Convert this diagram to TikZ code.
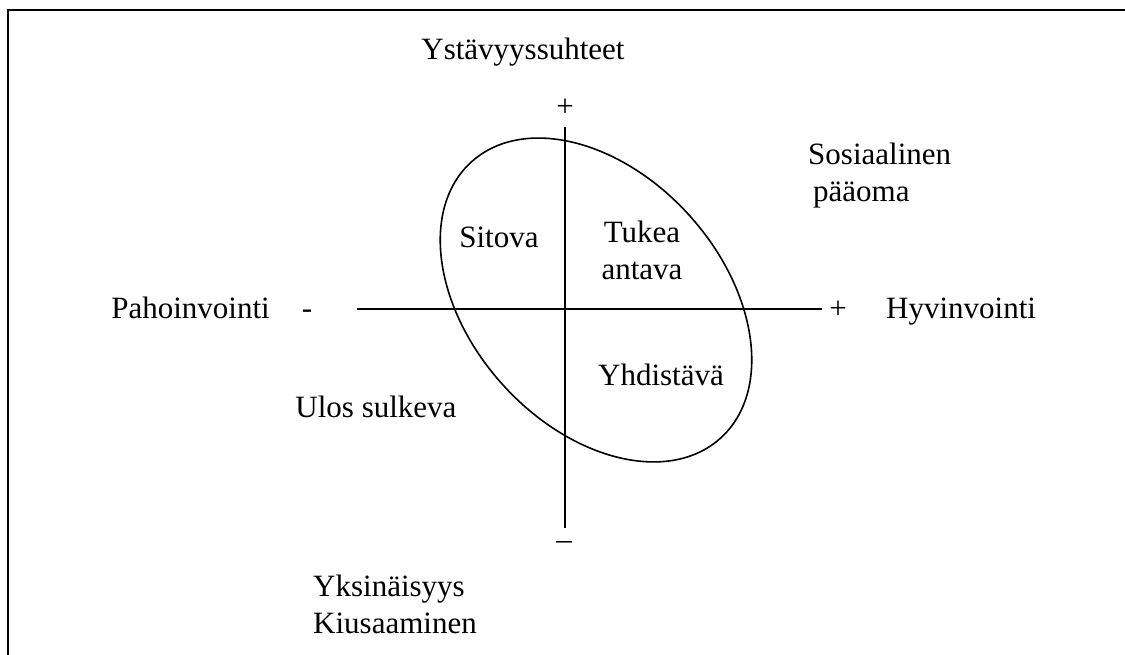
\documentclass[tikz,border=0pt]{standalone}
\usepackage{fontspec}
\setmainfont{Liberation Serif}
\begin{document}
\begin{tikzpicture}[x=1pt,y=-1pt,
  lbl/.style={inner sep=0pt, font=\fontsize{31}{37}\selectfont},
  axis/.style={line width=1.6pt}]
\useasboundingbox (0,0) rectangle (1125,655);
\draw[line width=2.4pt] (8,655) -- (8,10) -- (1125,10);

\node[lbl] (ystav) at (523,52) {Ystävyyssuhteet};
\node[lbl] (yplus) at (565,108) {+};
\node[lbl] (yminus) at (564,546) {--};
\node[lbl, anchor=base east] (paho) at (270,319) {Pahoinvointi};
\node[lbl, anchor=base] (xminus) at (307,319) {-};
\node[lbl, anchor=base] (xplus) at (838,319) {+};
\node[lbl, anchor=base west] (hyvin) at (886,319) {Hyvinvointi};
\node[lbl, anchor=west, align=left] (sos) at (808,176) {Sosiaalinen\\\hspace{5pt}pääoma};
\node[lbl] (sitova) at (499,237) {Sitova};
\node[lbl, align=center] (tukea) at (642,250) {Tukea\\antava};
\node[lbl] (yhdis) at (661,375) {Yhdistävä};
\node[lbl] (ulos) at (376,407) {Ulos sulkeva};
\node[lbl, anchor=west, align=left] (yksin) at (313,604) {Yksinäisyys\\Kiusaaminen};

\coordinate (xl) at (357,309);
\coordinate (xr) at (822,309);
\coordinate (yt) at (565,127);
\coordinate (yb) at (565,528);
\coordinate (ec) at (596,300);

\path[draw,axis] (xl) -- (xr);
\path[draw,axis] (yt) -- (yb);
\draw[axis, rotate around={-48:(ec)}] (ec) ellipse [x radius=186pt, y radius=126pt];
\end{tikzpicture}
\end{document}
